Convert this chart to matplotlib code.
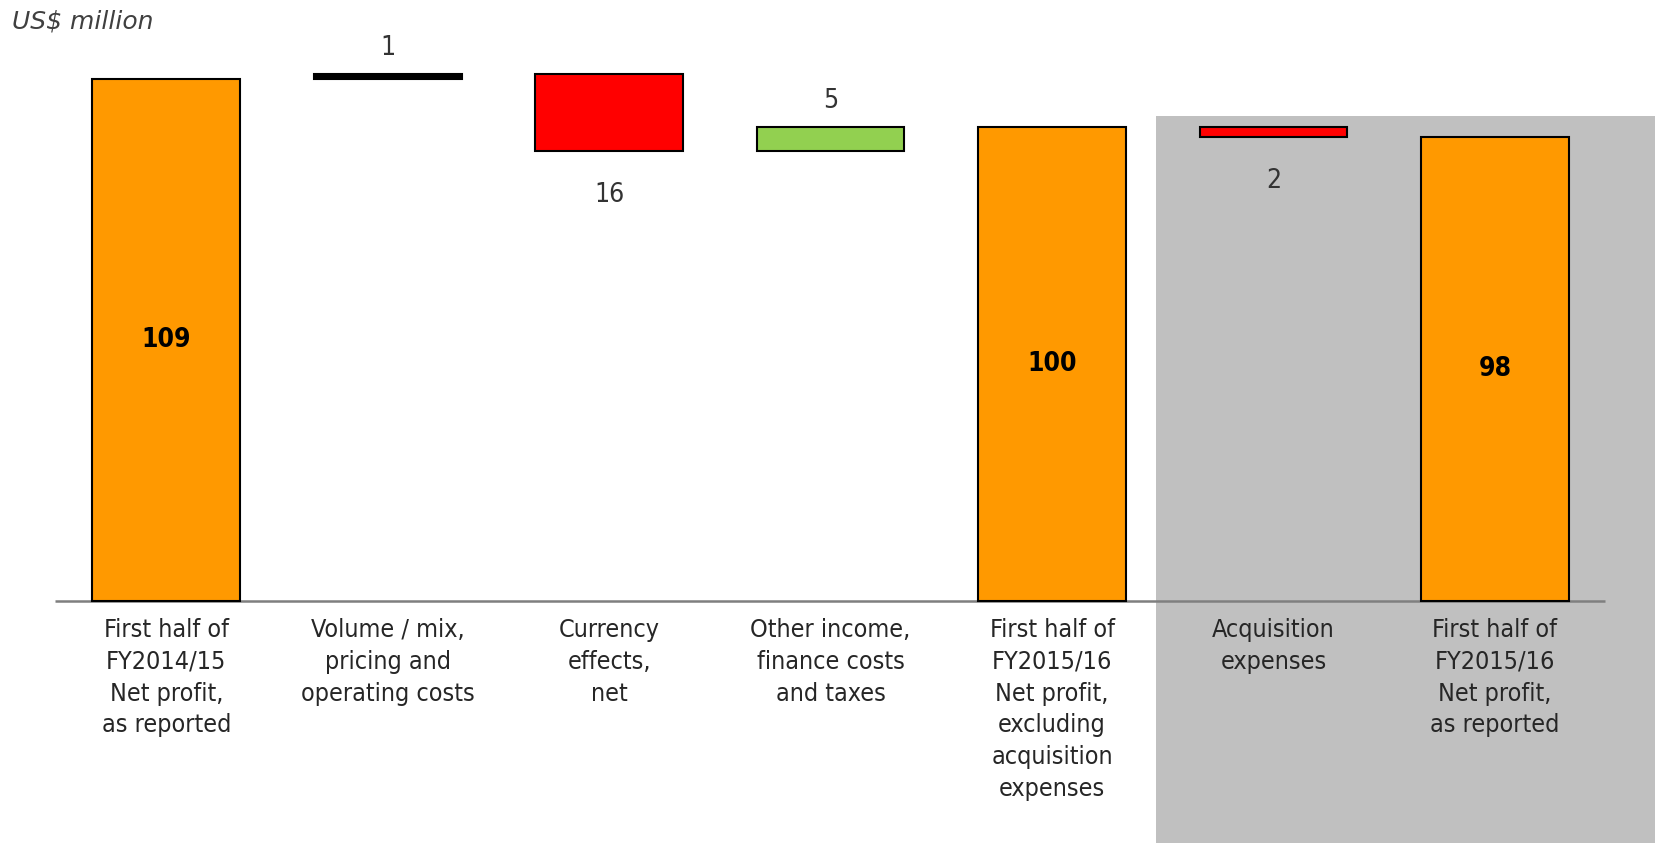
import matplotlib
matplotlib.use("Agg")
import matplotlib.pyplot as plt
from matplotlib.patches import Rectangle

categories = [
    "First half of\nFY2014/15\nNet profit,\nas reported",
    "Volume / mix,\npricing and\noperating costs",
    "Currency\neffects,\nnet",
    "Other income,\nfinance costs\nand taxes",
    "First half of\nFY2015/16\nNet profit,\nexcluding\nacquisition\nexpenses",
    "Acquisition\nexpenses",
    "First half of\nFY2015/16\nNet profit,\nas reported",
]
values = [109, 1, -16, 5, 99, -2, 97]
kinds = ["total", "delta", "delta", "delta", "total", "delta", "total"]
value_labels = ["109", "1", "16", "5", "100", "2", "98"]

ORANGE = "#FF9900"
RED = "#FF0000"
GREEN = "#92D050"
GREY_BG = "#C0C0C0"

plt.rcParams["font.family"] = ["DejaVu Sans"]
plt.rcParams["font.stretch"] = "condensed"

fig = plt.figure(figsize=(16.55, 8.43), dpi=100)
ax = fig.add_axes([0, 0, 1, 1])
ax.set_xlim(-0.751, 6.723)
ax.set_ylim(-50.4, 125.5)
ax.axis("off")

# grey panel behind the acquisition part
ax.add_patch(Rectangle((4.468, -60), 3, 101.3 + 60, facecolor=GREY_BG,
                       edgecolor="none", zorder=0))

running = 0
for i, (v, k) in enumerate(zip(values, kinds)):
    if k == "total":
        bottom, height = 0, v
        color = ORANGE
        running = v
    else:
        bottom = running if v > 0 else running + v
        height = abs(v)
        color = GREEN if v > 1 else (RED if v < 0 else "black")
        running += v
    ax.bar(i, height, bottom=bottom, width=0.667, color=color,
           edgecolor="black", linewidth=1.5, zorder=3)

    if k == "total":
        ax.text(i, v / 2, value_labels[i], ha="center", va="center",
                fontsize=19, fontweight="bold", color="black", zorder=4)
    elif v > 0:
        ax.annotate(value_labels[i], (i, bottom + height), xytext=(0, 19),
                    textcoords="offset points", ha="center", va="center",
                    fontsize=19, color="#333333", zorder=4)
    else:
        ax.annotate(value_labels[i], (i, bottom), xytext=(0, -32),
                    textcoords="offset points", ha="center", va="center",
                    fontsize=19, color="#333333", zorder=4)

    ax.annotate(categories[i], (i, 0), xytext=(0, -12),
                textcoords="offset points", ha="center", va="top",
                fontsize=18, linespacing=1.41, color="#262626", zorder=4)

ax.hlines(0, -0.503, 6.496, color="#7F7F7F", linewidth=1.8, zorder=2)

fig.text(0.007, 0.975, "US$ million", ha="left", va="center", fontsize=18,
         style="italic", stretch="normal", color="#404040")

fig.savefig("out.png", dpi=100)
